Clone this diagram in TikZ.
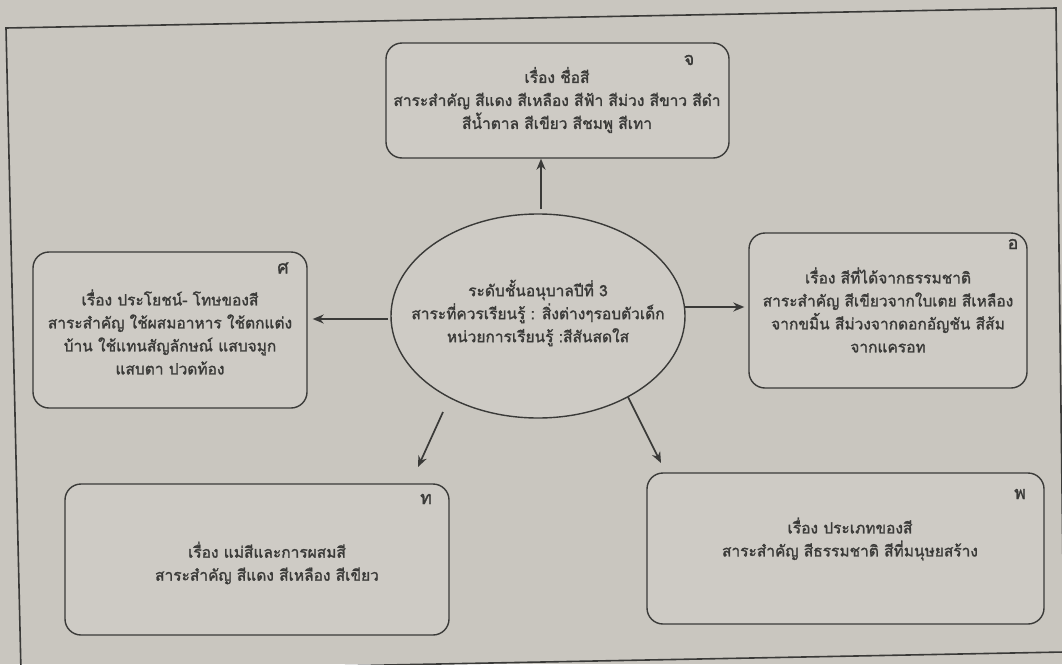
\documentclass[tikz,border=0pt]{standalone}
\usepackage{fontspec}
\setmainfont[Script=Thai]{Loma}
\newfontfamily\thaibold[Script=Thai,FakeBold=1.6]{Loma}
\usetikzlibrary{arrows.meta,shapes.geometric,calc}
\definecolor{paper}{HTML}{C9C6BF}
\definecolor{boxbg}{HTML}{CECBC5}
\definecolor{ink}{HTML}{3A3A38}
\tikzset{
  topicbox/.style={draw=ink,line width=1.4pt,rounded corners=16pt,fill=boxbg,inner sep=0pt},
  topictext/.style={text=ink,align=center,font=\thaibold\fontsize{15.5}{23}\selectfont,inner sep=0pt},
  daylabel/.style={text=ink,font=\thaibold\fontsize{18}{20}\selectfont,inner sep=0pt},
  arr/.style={draw=ink,line width=1.7pt,-{Stealth[length=11pt,width=9pt]}},
}
\begin{document}
\begin{tikzpicture}[x=1pt,y=-1pt]
\useasboundingbox (0,0) rectangle (1062,664);
\clip (0,0) rectangle (1062,664);
\fill[paper] (0,0) rectangle (1062,664);
\draw[ink,line width=1.6pt] (6,28) -- (1056,8) -- (1064,652) -- (21,672) -- cycle;
% boxes
\node[topicbox,minimum width=343pt,minimum height=115pt] (top) at (557.5,100.5) {};
\node[topicbox,minimum width=274pt,minimum height=156pt] (left) at (170,330) {};
\node[topicbox,minimum width=278pt,minimum height=155pt] (right) at (888,310.5) {};
\node[topicbox,minimum width=384pt,minimum height=151pt] (bl) at (257,559.5) {};
\node[topicbox,minimum width=397pt,minimum height=151pt] (br) at (845.5,548.5) {};
\node[draw=ink,line width=1.4pt,ellipse,fill=boxbg,minimum width=294pt,minimum height=204pt,inner sep=0pt] (ell) at (538,316) {};
% texts
\node[topictext] (toptxt) at (557,100) {เรื่อง ชื่อสี\\สาระสำคัญ สีแดง สีเหลือง สีฟ้า สีม่วง สีขาว สีดำ\\สีน้ำตาล สีเขียว สีชมพู สีเทา};
\node[topictext] (elltxt) at (538,313) {ระดับชั้นอนุบาลปีที่ 3\\สาระที่ควรเรียนรู้ : สิ่งต่างๆรอบตัวเด็ก\\หน่วยการเรียนรู้ :สีสันสดใส};
\node[topictext] (lefttxt) at (170,332) {เรื่อง ประโยชน์- โทษของสี\\สาระสำคัญ ใช้ผสมอาหาร ใช้ตกแต่ง\\บ้าน ใช้แทนสัญลักษณ์ แสบจมูก\\แสบตา ปวดท้อง};
\node[topictext] (righttxt) at (888,310) {เรื่อง สีที่ได้จากธรรมชาติ\\สาระสำคัญ สีเขียวจากใบเตย สีเหลือง\\จากขมิ้น สีม่วงจากดอกอัญชัน สีส้ม\\จากแครอท};
\node[topictext] (bltxt) at (267,563) {เรื่อง แม่สีและการผสมสี\\สาระสำคัญ สีแดง สีเหลือง สีเขียว};
\node[topictext] (brtxt) at (850,539) {เรื่อง ประเภทของสี\\สาระสำคัญ สีธรรมชาติ สีที่มนุษยสร้าง};
% day labels
\node[daylabel] (ljo) at (689,60) {จ};
\node[daylabel] (lso) at (283,268) {ศ};
\node[daylabel] (lao) at (1013,244) {อ};
\node[daylabel] (ltho) at (426,499) {ท};
\node[daylabel] (lpho) at (1020,494) {พ};
% arrows
\coordinate (upS) at (541,209);
\coordinate (leftS) at (388,319);
\coordinate (rightS) at (684,307);
\coordinate (blS) at (443,412);
\coordinate (blE) at (418,467);
\coordinate (brS) at (628,397);
\coordinate (brE) at (661,463);
\draw[arr] (upS) -- (upS |- top.south);
\draw[arr] (leftS) -- ([xshift=5pt]left.east |- leftS);
\draw[arr] (rightS) -- ([xshift=-4pt]right.west |- rightS);
\draw[arr] (blS) -- (blE);
\draw[arr] (brS) -- (brE);
\end{tikzpicture}
\end{document}
